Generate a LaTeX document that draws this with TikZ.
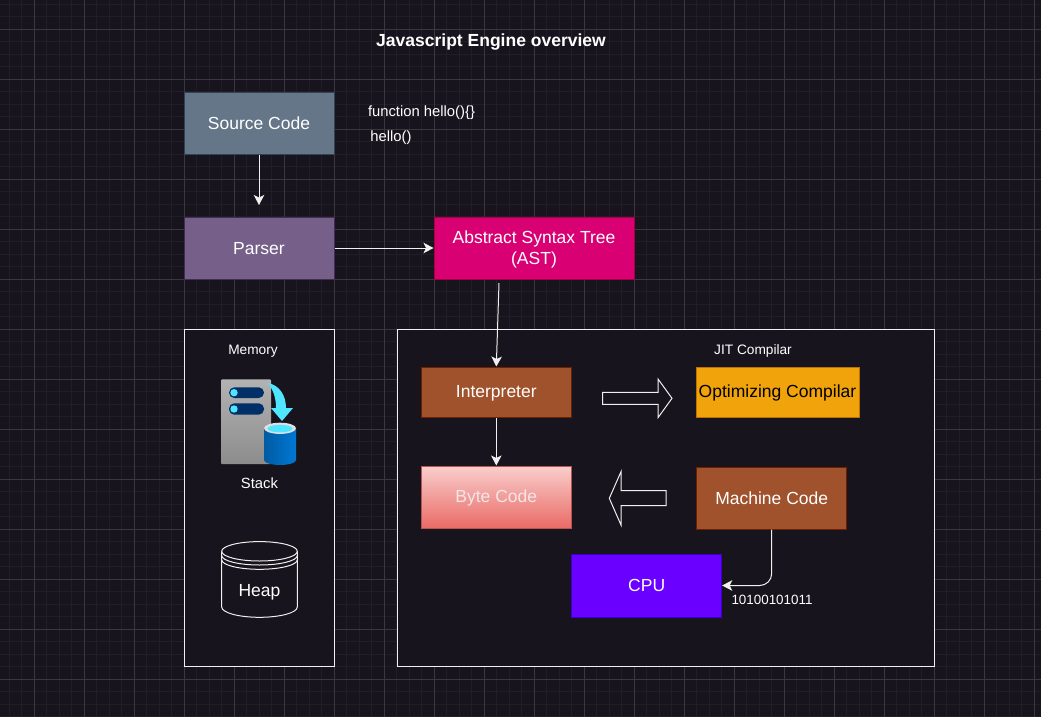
\documentclass[tikz,border=0pt]{standalone}
\usepackage{fontspec}
\setmainfont{Liberation Sans}
\usetikzlibrary{arrows.meta}
\definecolor{bgc}{HTML}{18141D}
\definecolor{gridminor}{HTML}{221E27}
\definecolor{gridmajor}{HTML}{3A373E}
\definecolor{panelc}{HTML}{F0F0F0}
\definecolor{linec}{HTML}{F0F0F0}
\definecolor{srcf}{HTML}{647687}\definecolor{srcd}{HTML}{314354}
\definecolor{parf}{HTML}{76608A}\definecolor{pard}{HTML}{432D57}
\definecolor{astf}{HTML}{D80073}\definecolor{astd}{HTML}{A50040}
\definecolor{brnf}{HTML}{A0522D}\definecolor{brnd}{HTML}{6D1F00}
\definecolor{optf}{HTML}{F0A30A}\definecolor{optd}{HTML}{BD7000}
\definecolor{cpuf}{HTML}{6A00FF}\definecolor{cpud}{HTML}{3700CC}
\definecolor{bytet}{HTML}{F8CECC}\definecolor{byteb}{HTML}{EA6B66}\definecolor{byted}{HTML}{B85450}
\definecolor{bytetx}{HTML}{F3E6E6}
\definecolor{cyan1}{HTML}{50E6FF}
\definecolor{navy}{HTML}{003067}
\definecolor{dbblue}{HTML}{0078D4}
\definecolor{dbdark}{HTML}{005BA1}
\tikzset{
  box/.style={draw,line width=1pt,inner sep=0pt,text=white,align=center,text height=16pt,text depth=4pt,font=\fontsize{17.5}{21}\selectfont},
  wide/.style={minimum width=150pt,minimum height=62pt},
  raised/.style={text height=14pt},
  caption/.style={inner sep=0pt,text=white,font=\fontsize{14.8}{18}\selectfont},
  smallcap/.style={inner sep=0pt,text=white,font=\fontsize{13.7}{16}\selectfont},
  panel/.style={draw=panelc,fill=bgc,line width=1pt,inner sep=0pt},
  conn/.style={draw=linec,line width=1pt,-{Stealth[length=10pt,width=10.5pt,inset=2.5pt]}},
  blockarrow/.style={draw=linec,line width=1pt,fill=bgc},
  cyl/.style={draw=panelc,line width=1pt,fill=bgc}
}
\begin{document}
\begin{tikzpicture}[x=1pt,y=-1pt]
\useasboundingbox (0,0) rectangle (1041,717);
\fill[bgc] (0,0) rectangle (1041,717);
% grid
\foreach \k in {0,...,83}{\draw[gridminor,line width=1pt] ({9.3+12.5*\k},0) -- ({9.3+12.5*\k},717);}
\foreach \k in {0,...,57}{\draw[gridminor,line width=1pt] (0,{4.3+12.5*\k}) -- (1041,{4.3+12.5*\k});}
\foreach \k in {0,...,20}{\draw[gridmajor,line width=1pt] ({34.3+50*\k},0) -- ({34.3+50*\k},717);}
\foreach \k in {0,...,13}{\draw[gridmajor,line width=1pt] (0,{29.3+50*\k}) -- (1041,{29.3+50*\k});}
% title and code text
\node[inner sep=0pt,text=white,font=\fontsize{17.5}{21}\selectfont\bfseries] (title) at (491,42) {Javascript Engine overview};
\node[caption] (code1) at (421.5,113) {function hello()\{\}};
\node[caption] (code2) at (391,138) {hello()};
% panels
\node[panel,minimum width=150pt,minimum height=337pt] (memory) at (259,497.5) {};
\node[panel,minimum width=537pt,minimum height=337pt] (jit) at (665.5,497.5) {};
\node[smallcap] (memlabel) at (253,351) {Memory};
\node[smallcap] (jitlabel) at (753,351) {JIT Compilar};
% boxes
\node[box,wide,draw=srcd,fill=srcf] (source) at (259,123) {Source Code};
\node[box,wide,draw=pard,fill=parf] (parser) at (259,248) {Parser};
\node[box,draw=astd,fill=astf,minimum width=200pt,minimum height=62pt,text height=36pt] (ast) at (534,248) {Abstract Syntax Tree\\(AST)};
\node[box,raised,draw=brnd,fill=brnf,minimum width=150.5pt,minimum height=50pt] (interp) at (496.3,392) {Interpreter};
\node[box,raised,draw=optd,fill=optf,text=black,minimum width=163pt,minimum height=50pt] (optim) at (777.5,392) {Optimizing Compilar};
\node[box,raised,draw=byted,top color=bytet,bottom color=byteb,text=bytetx,minimum width=150.5pt,minimum height=62pt] (byte) at (496.3,497) {Byte Code};
\node[box,wide,draw=brnd,fill=brnf] (machine) at (771.7,498) {Machine Code};
\node[box,draw=cpud,fill=cpuf,minimum width=150pt,minimum height=63pt] (cpu) at (646.7,585.5) {CPU};
\node[smallcap,font=\fontsize{13.4}{16}\selectfont] (bits) at (772,600) {10100101011};
% connectors
\coordinate (srcend) at (259,205);
\coordinate (aststart) at (499,283);
\draw[conn] (source.south) -- (srcend);
\draw[conn] (parser.east) -- (ast.west);
\draw[conn] (aststart) -- (interp.north);
\draw[conn] (interp.south) -- (byte.north);
\draw[conn,rounded corners=12pt] (machine.south) |- (cpu.east);
% block arrows
\draw[blockarrow] (602.7,392.3) -- (658,392.3) -- (658,379) -- (672,398.3) -- (658,417.7) -- (658,404.3) -- (602.7,404.3) -- cycle;
\draw[blockarrow] (666,490.7) -- (621,490.7) -- (621,471.7) -- (609.3,498.3) -- (621,525) -- (621,505.7) -- (666,505.7) -- cycle;
% stack icon
\shade[top color=black!30!white,bottom color=black!45!white,rounded corners=1pt] (221,379.3) rectangle (271,464);
\fill[navy,rounded corners=5.3pt] (229,387.3) rectangle (264,398);
\fill[navy,rounded corners=5.3pt] (229,403.3) rectangle (264,414.7);
\fill[cyan1] (234,392.7) circle (3.7pt);
\fill[cyan1] (234,409) circle (3.7pt);
\fill[cyan1] (268,383) .. controls (279,385) and (286,395) .. (286,408) -- (293,408) -- (282,421) -- (271,408) -- (276,408) .. controls (276,399) and (274,391) .. (268,383) -- cycle;
\path[left color=dbdark,right color=dbblue] (264,428) -- (264,460) arc[start angle=180,end angle=360,x radius=16pt,y radius=5pt] -- (296,428) -- cycle;
\fill[black!12!white] (280,428.3) ellipse (16pt and 5.6pt);
\fill[cyan1] (280,428.6) ellipse (12.5pt and 3.8pt);
\node[caption] (stack) at (259.5,483) {Stack};
% heap
\draw[cyl] (221.7,551.3) -- (221.7,607) arc[start angle=180,end angle=360,x radius=37.8pt,y radius=10.3pt] -- (297.3,551.3);
\draw[cyl] (259.5,551.3) ellipse (37.8pt and 9.7pt);
\draw[panelc,line width=1pt] (221.7,555.5) arc[start angle=180,end angle=360,x radius=37.8pt,y radius=9.5pt];
\draw[panelc,line width=1pt] (221.7,559.8) arc[start angle=180,end angle=360,x radius=37.8pt,y radius=9.5pt];
\node[inner sep=0pt,text=white,font=\fontsize{17.5}{21}\selectfont] (heap) at (259.5,592.5) {Heap};
\end{tikzpicture}
\end{document}
